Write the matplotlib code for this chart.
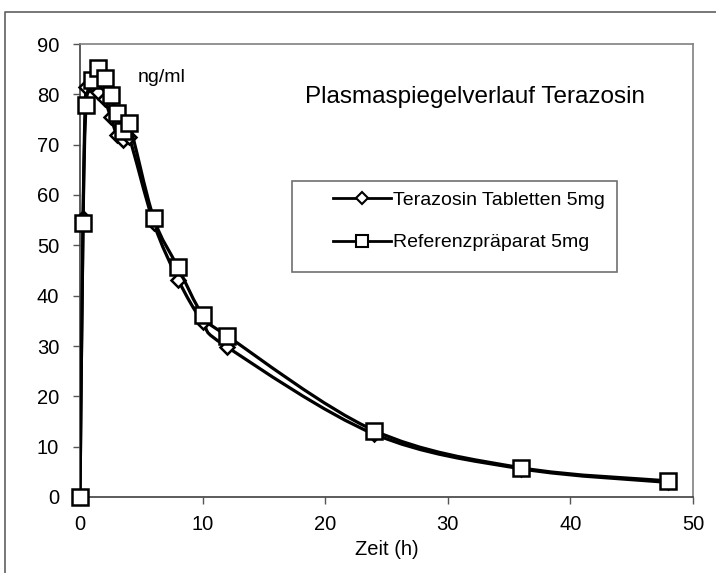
import numpy as np
import matplotlib
matplotlib.use("Agg")
from matplotlib import pyplot as plt
from matplotlib.path import Path
from matplotlib.patches import PathPatch, Rectangle
from matplotlib.lines import Line2D

# Zeitpunkte (h) und Plasmaspiegel (ng/ml)
zeit = [0, 0.25, 0.5, 1, 1.5, 2, 2.5, 3, 3.5, 4, 6, 8, 10, 12, 24, 36, 48]
terazosin = [0, 55.5, 81.5, 82, 80.5, 79, 75.5, 72, 71, 71.5, 54.5, 43.2, 34.8, 29.8, 12.5, 5.6, 2.9]
referenz = [0, 54.5, 77.8, 82.8, 85.2, 83.2, 79.8, 76.2, 72.8, 74.3, 55.5, 45.6, 36.2, 32.0, 13.2, 5.8, 3.2]

labels = ["Terazosin Tabletten 5mg", "Referenzpräparat 5mg"]
x_ticks = [0, 10, 20, 30, 40, 50]
y_ticks = [0, 10, 20, 30, 40, 50, 60, 70, 80, 90]

plt.rcParams['font.family'] = ['Liberation Sans', 'DejaVu Sans']


# geglaettete Linie wie in Excel (Bezier durch alle Punkte)
def smooth_path(x, y):
    pts = np.column_stack([x, y]).astype(float)
    n = len(pts)
    verts = [pts[0]]
    codes = [Path.MOVETO]
    for i in range(n - 1):
        p0 = pts[i - 1] if i > 0 else pts[i]
        p1 = pts[i]
        p2 = pts[i + 1]
        p3 = pts[i + 2] if i + 2 < n else pts[i + 1]
        c1 = p1 + (p2 - p0) / 6
        c2 = p2 - (p3 - p1) / 6
        verts += [c1, c2, p2]
        codes += [Path.CURVE4] * 3
    return Path(verts, codes)


fig = plt.figure(figsize=(7.16, 5.73), dpi=100)
ax = fig.add_axes([80 / 716, 1 - 497 / 573, 613 / 716, 453 / 573])

for vals, marker, ms, z in [(terazosin, 'D', 7, 2), (referenz, 's', 11.5, 4)]:
    patch = PathPatch(smooth_path(zeit, vals), facecolor='none', edgecolor='black',
                      lw=2.3, zorder=z, capstyle='round', joinstyle='round')
    ax.add_patch(patch)
    ax.plot(zeit, vals, linestyle='none', marker=marker, ms=ms, mfc='white',
            mec='black', mew=1.8, zorder=z + 1, clip_on=False)

ax.set_xlim(0, 50)
ax.set_ylim(0, 90)
ax.set_xticks(x_ticks)
ax.set_yticks(y_ticks)
ax.tick_params(labelsize=14.5, direction='out', length=5, color='#555555', width=1)
ax.tick_params(axis='x', pad=8)
ax.tick_params(axis='y', pad=10)
ax.set_xlabel("Zeit (h)", fontsize=14.5, labelpad=4)
for s in ['left', 'bottom']:
    ax.spines[s].set_color('#404040')
    ax.spines[s].set_linewidth(1.2)
for s in ['top', 'right']:
    ax.spines[s].set_color('#808080')
    ax.spines[s].set_linewidth(1.2)

fig.text(138 / 716, 1 - 78 / 573, "ng/ml", fontsize=14, va='center', ha='left')
fig.text(475 / 716, 1 - 97 / 573, "Plasmaspiegelverlauf Terazosin", fontsize=17.5,
         ha='center', va='center')

# Legendenrahmen
fig.patches.append(Rectangle((292 / 716, 1 - 272 / 573), 325 / 716, 91 / 573,
                             transform=fig.transFigure, facecolor='white',
                             edgecolor='#707070', lw=1.2))
handles = [Line2D([], [], color='black', lw=2, marker='D', ms=6.5, mfc='white', mec='black', mew=1.5),
           Line2D([], [], color='black', lw=2, marker='s', ms=8.5, mfc='white', mec='black', mew=1.5)]
fig.legend(handles, labels, loc='upper left', bbox_to_anchor=(333 / 716, 1 - 191 / 573),
           frameon=False, fontsize=14, handlelength=3.0, handletextpad=0.1,
           labelspacing=1.3, borderaxespad=0, borderpad=0)

# aeusserer Rahmen
fig.add_artist(Line2D([5 / 716, 5 / 716, 1], [0, 1 - 12 / 573, 1 - 12 / 573],
                      transform=fig.transFigure, color='#606060', lw=1.2))

fig.savefig("out.png", dpi=100)
